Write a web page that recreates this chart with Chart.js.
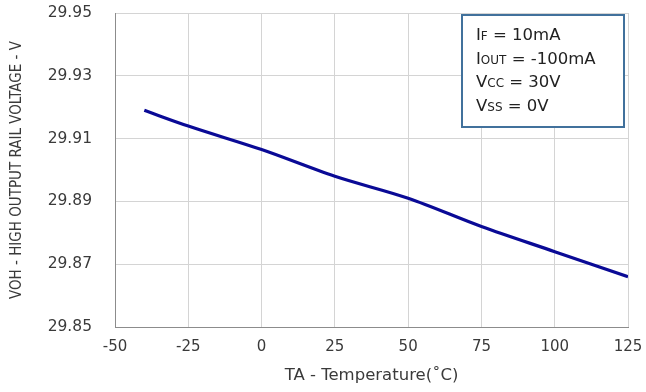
<!DOCTYPE html>
<html>
<head>
<meta charset="utf-8">
<script src="https://cdn.jsdelivr.net/npm/chart.js@4"></script>
<style>
  html, body { margin: 0; padding: 0; background: #fff; }
  #wrap { width: 646px; height: 392px; }
</style>
</head>
<body>
<div id="wrap"><canvas id="voh"></canvas></div>
<script>
// Temperature points and measured high output rail voltage
const tempC = [-40, -25, 0, 25, 50, 75, 100, 125];
const vohVolts = [29.919, 29.914, 29.9065, 29.898, 29.891, 29.882, 29.874, 29.866];
const yTicks = [29.85, 29.87, 29.89, 29.91, 29.93, 29.95];
const xTicks = [-50, -25, 0, 25, 50, 75, 100, 125];

// conditions box: [main text, subscript, rest]
const conditions = [
  ["I", "F", " = 10mA"],
  ["I", "OUT", " = -100mA"],
  ["V", "CC", " = 30V"],
  ["V", "SS", " = 0V"],
];

const FONT = "'DejaVu Sans', sans-serif";
const NARROW = "'DejaVu Sans Condensed', 'Liberation Sans Narrow', 'Liberation Sans', sans-serif";
const TXT = "#3a3a3a";

const conditionsBox = {
  id: "conditionsBox",
  afterDraw(chart) {
    const ctx = chart.ctx;
    const a = chart.chartArea;
    const x0 = a.right - 166, y0 = a.top + 2, w = 162, h = 112;
    ctx.save();
    ctx.fillStyle = "#fff";
    ctx.fillRect(x0, y0, w, h);
    ctx.strokeStyle = "#41719c";
    ctx.lineWidth = 2;
    ctx.strokeRect(x0, y0, w, h);
    ctx.fillStyle = "#222";
    ctx.textBaseline = "alphabetic";
    conditions.forEach((row, i) => {
      let x = x0 + 14;
      const y = y0 + 25 + i * 23.5;
      ctx.font = "16.5px " + FONT;
      ctx.fillText(row[0], x, y);
      x += ctx.measureText(row[0]).width;
      ctx.font = "12px " + FONT;
      ctx.fillText(row[1], x, y);
      x += ctx.measureText(row[1]).width;
      ctx.font = "16.5px " + FONT;
      ctx.fillText(row[2], x, y);
    });
    ctx.restore();
  }
};

new Chart(document.getElementById("voh"), {
  type: "scatter",
  data: {
    datasets: [{
      data: tempC.map((t, i) => ({ x: t, y: vohVolts[i] })),
      showLine: true,
      borderColor: "#0a0a96",
      borderWidth: 3.2,
      pointRadius: 0,
      tension: 0.4,
      cubicInterpolationMode: "monotone",
    }],
  },
  options: {
    responsive: true,
    maintainAspectRatio: false,
    animation: false,
    layout: { padding: { left: 4, right: 18, top: 13, bottom: 2 } },
    plugins: { legend: { display: false }, tooltip: { enabled: false } },
    scales: {
      x: {
        type: "linear",
        min: -50, max: 125,
        afterBuildTicks: (s) => { s.ticks = xTicks.map(v => ({ value: v })); },
        afterFit: (s) => { s.height = 63; s.paddingLeft = 0; s.paddingRight = 0; },
        grid: { color: "#d4d4d4", drawTicks: false },
        border: { color: "#8c8c8c", width: 1 },
        ticks: { color: TXT, font: { family: FONT, size: 15 }, padding: 11 },
        title: {
          display: true, text: "TA - Temperature(˚C)", color: TXT,
          font: { family: FONT, size: 16.5 }, padding: { top: 7 },
        },
      },
      y: {
        min: 29.85, max: 29.95,
        afterBuildTicks: (s) => { s.ticks = yTicks.map(v => ({ value: v })); },
        afterFit: (s) => { s.width = 111; s.paddingTop = 0; s.paddingBottom = 0; },
        grid: { color: "#d4d4d4", drawTicks: false },
        border: { color: "#8c8c8c", width: 1 },
        ticks: {
          color: TXT, font: { family: FONT, size: 15.5 }, padding: 23,
          callback: (v) => v.toFixed(2),
        },
        title: {
          display: true, text: "VOH - HIGH OUTPUT RAIL VOLTAGE - V", color: TXT,
          font: { family: NARROW, size: 15 }, padding: { bottom: 0 },
        },
      },
    },
  },
  plugins: [conditionsBox],
});
</script>
</body>
</html>
